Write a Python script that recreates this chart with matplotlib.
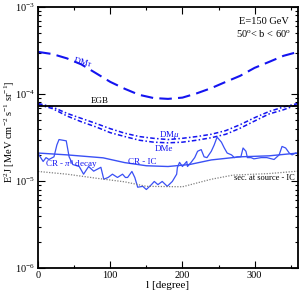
import matplotlib
matplotlib.use("Agg")
import matplotlib.pyplot as plt
from matplotlib.ticker import MultipleLocator, LogLocator, NullFormatter

plt.rcParams['font.family'] = ['Liberation Serif', 'DejaVu Serif']
plt.rcParams['mathtext.fontset'] = 'custom'
plt.rcParams['mathtext.rm'] = 'Liberation Serif'
plt.rcParams['mathtext.it'] = 'Liberation Serif:italic'

# smooth curves sampled every 20 degrees
l_grid = [0, 20, 40, 60, 80, 100, 120, 140, 160, 180, 200, 220, 240, 260, 280, 300, 320, 340, 360]
dm_tau = [3.05e-4, 2.88e-4, 2.57e-4, 2.19e-4, 1.74e-4, 1.38e-4, 1.15e-4, 9.8e-5, 9.0e-5, 8.8e-5,
          9.1e-5, 1.02e-4, 1.17e-4, 1.38e-4, 1.62e-4, 2.0e-4, 2.34e-4, 2.75e-4, 3.05e-4]
dm_mu = [7.8e-5, 7.1e-5, 6.0e-5, 5.25e-5, 4.6e-5, 4.0e-5, 3.55e-5, 3.25e-5, 3.1e-5, 3.0e-5,
         3.1e-5, 3.25e-5, 3.45e-5, 3.8e-5, 4.45e-5, 5.35e-5, 6.3e-5, 7.1e-5, 7.8e-5]
dm_e = [7.6e-5, 6.8e-5, 5.6e-5, 4.8e-5, 4.2e-5, 3.6e-5, 3.25e-5, 2.95e-5, 2.8e-5, 2.75e-5,
        2.8e-5, 2.95e-5, 3.15e-5, 3.45e-5, 4.05e-5, 4.9e-5, 5.9e-5, 6.6e-5, 7.6e-5]

l_ic = [0, 40, 90, 120, 150, 180, 210, 240, 280, 320, 360]
cr_ic = [2.1e-5, 2.0e-5, 1.85e-5, 1.63e-5, 1.5e-5, 1.47e-5, 1.55e-5, 1.75e-5, 1.9e-5, 1.95e-5, 2.1e-5]

l_sec = [0, 40, 80, 120, 150, 200, 240, 270, 320, 360]
sec_ic = [1.29e-5, 1.2e-5, 1.08e-5, 9.8e-6, 8.7e-6, 8.6e-6, 1.05e-5, 1.17e-5, 1.22e-5, 1.3e-5]

egb = 7.35e-5

# noisy pi0 curve
l_pi = [0, 7, 11, 15, 22, 26, 29, 39, 43, 48, 57, 63, 70, 77, 87, 91, 97, 103, 110, 117, 121,
        124, 130, 134, 138, 145, 150, 157, 161, 166, 172, 179, 186, 192, 193, 196, 200, 206, 207,
        212, 217, 221, 226, 230, 234, 240, 244, 248, 254, 258, 262, 268, 272, 276, 281, 284, 288,
        290, 295, 299, 309, 317, 327, 334, 338, 343, 348, 352, 357, 360]
cr_pi = [2.07e-5, 1.68e-5, 1.86e-5, 1.77e-5, 1.9e-5, 2.6e-5, 3.0e-5, 2.9e-5, 1.9e-5, 1.55e-5,
         1.47e-5, 1.2e-5, 1.47e-5, 1.3e-5, 1.44e-5, 1.05e-5, 1.1e-5, 1.2e-5, 1.1e-5, 1.2e-5, 1.1e-5,
         1.1e-5, 1.29e-5, 1.1e-5, 8.5e-6, 8.7e-6, 8.0e-6, 9.1e-6, 9.9e-6, 9.1e-6, 9.9e-6, 8.7e-6,
         9.9e-6, 1.2e-5, 1.43e-5, 1.64e-5, 1.47e-5, 1.68e-5, 1.47e-5, 1.64e-5, 1.86e-5, 2.2e-5,
         2.3e-5, 1.9e-5, 1.86e-5, 2.2e-5, 2.6e-5, 3.2e-5, 2.8e-5, 2.4e-5, 2.1e-5, 2.0e-5, 1.86e-5,
         1.9e-5, 1.9e-5, 2.4e-5, 2.2e-5, 1.86e-5, 1.86e-5, 1.8e-5, 1.86e-5, 1.86e-5, 1.77e-5,
         2.0e-5, 2.5e-5, 2.4e-5, 2.1e-5, 2.0e-5, 2.1e-5, 2.05e-5]

blue = '#1414f0'
light = '#3a50f5'

fig = plt.figure(figsize=(3.0, 2.93), dpi=100)
ax = fig.add_axes([0.127, 0.085, 0.866, 0.891])

ax.plot(l_grid, dm_tau, color=blue, lw=1.5, dashes=(6, 3))
ax.plot(l_grid, dm_mu, color=blue, lw=1.1, dashes=(3, 1.5, 1, 1.5))
ax.plot(l_grid, dm_e, color=blue, lw=1.1, dashes=(3, 1.5, 1, 1.5))
ax.axhline(egb, color='black', lw=1.3)
ax.plot(l_ic, cr_ic, color=light, lw=1.0)
ax.plot(l_pi, cr_pi, color=light, lw=0.9)
ax.plot(l_sec, sec_ic, color='#808080', lw=0.9, ls=(0, (1, 1.2)))

ax.set_yscale('log')
ax.set_xlim(0, 360)
ax.set_ylim(1e-6, 1e-3)

ax.xaxis.set_major_locator(MultipleLocator(100))
ax.xaxis.set_minor_locator(MultipleLocator(50))
ax.yaxis.set_major_locator(LogLocator(base=10, numticks=10))
ax.yaxis.set_minor_locator(LogLocator(base=10, subs=range(2, 10), numticks=20))
ax.yaxis.set_minor_formatter(NullFormatter())
ax.tick_params(which='both', direction='in', top=True, right=True, labelsize=7.5, width=0.8)
ax.tick_params(which='major', length=5)
ax.tick_params(which='minor', length=2.5)
ax.tick_params(axis='x', pad=2)
ax.tick_params(axis='y', pad=2)
for s in ax.spines.values():
    s.set_linewidth(1.3)

ax.set_xlabel('l [degree]', fontsize=8, labelpad=1)
fig.text(0.032, 0.55, r'E$^2$J [MeV cm$^{-2}$ s$^{-1}$ sr$^{-1}$]', fontsize=7.5,
         rotation=90, ha='center', va='center')

ax.text(348, 10**-3.17, 'E=150 GeV', fontsize=7.5, ha='right', va='center')
ax.text(350, 10**-3.30, r'50$^{\rm o}$< b < 60$^{\rm o}$', fontsize=7.5, ha='right', va='center')
ax.text(62, 10**-3.63, r'DM$\tau$', fontsize=6.5, color=blue, ha='center', va='center', rotation=-15)
ax.text(85, 10**-4.085, 'EGB', fontsize=6.5, ha='center', va='center')
ax.text(182, 10**-4.47, r'DM$\mu$', fontsize=6.5, color=blue, ha='center', va='center')
ax.text(175, 10**-4.63, 'DMe', fontsize=6.5, color=blue, ha='center', va='center')
ax.text(145, 10**-4.785, 'CR - IC', fontsize=6.5, color=blue, ha='center', va='center')
ax.text(46, 10**-4.81, r'CR - $\pi^0$ decay', fontsize=6.5, color=blue, ha='center', va='center')
ax.text(314, 10**-4.97, 'sec. at source - IC', fontsize=6, ha='center', va='center')

fig.savefig('out.png', dpi=100)
